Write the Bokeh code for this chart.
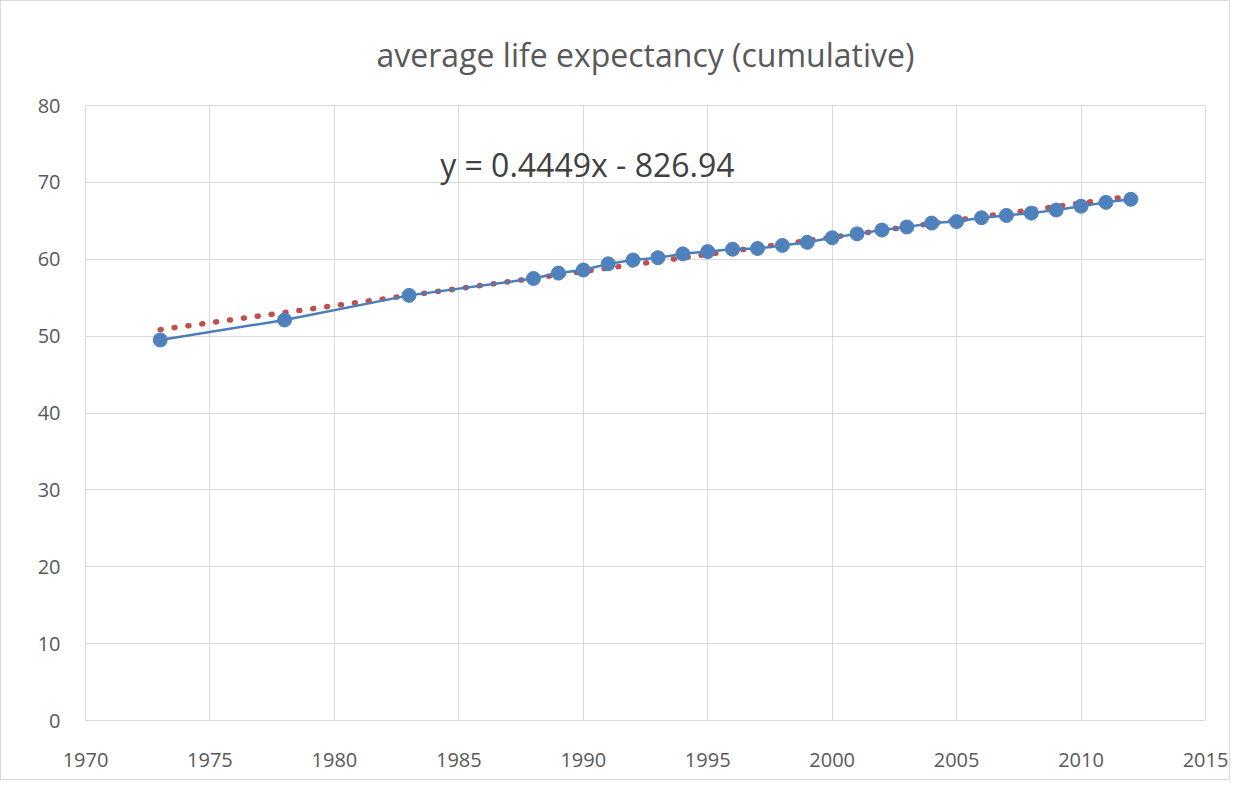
from bokeh.plotting import figure
from bokeh.models import Label, FixedTicker, Range1d
from bokeh.embed import file_html
from bokeh.resources import INLINE

years = [1973, 1978, 1983, 1988, 1989, 1990, 1991, 1992, 1993, 1994, 1995,
         1996, 1997, 1998, 1999, 2000, 2001, 2002, 2003, 2004, 2005, 2006,
         2007, 2008, 2009, 2010, 2011, 2012]
life_exp = [49.5, 52.1, 55.3, 57.5, 58.2, 58.6, 59.4, 59.9, 60.2, 60.7, 61.0,
            61.3, 61.4, 61.8, 62.2, 62.8, 63.3, 63.8, 64.2, 64.7, 64.9, 65.4,
            65.7, 66.0, 66.4, 66.9, 67.4, 67.8]
trend_slope = 0.4449
trend_intercept = -826.94
x_ticks = [1970, 1975, 1980, 1985, 1990, 1995, 2000, 2005, 2010, 2015]
y_ticks = [0, 10, 20, 30, 40, 50, 60, 70, 80]
title_text = "average life expectancy (cumulative)"
eq_text = "y = 0.4449x - 826.94"

trend_x = [years[0], years[-1]]
trend_y = [trend_slope * x + trend_intercept for x in trend_x]

FONT = "Open Sans"
TXT = "#595959"
GRID = "#d9d9d9"

p = figure(width=1230, height=780, output_backend="svg", toolbar_location=None,
           x_range=Range1d(1970, 2015), y_range=Range1d(0, 80),
           min_border_left=84, min_border_right=26, min_border_top=104,
           min_border_bottom=61, title=title_text)
p.styles = {"border": "1px solid #d9d9d9"}

p.title.align = "center"
p.title.text_font = FONT
p.title.text_font_size = "32px"
p.title.text_font_style = "normal"
p.title.text_color = TXT
p.title.standoff = 59
p.title.offset = -14

p.outline_line_color = GRID
p.xgrid.grid_line_color = GRID
p.ygrid.grid_line_color = GRID

p.xaxis.ticker = FixedTicker(ticks=x_ticks)
p.yaxis.ticker = FixedTicker(ticks=y_ticks)
for ax in (p.xaxis[0], p.yaxis[0]):
    ax.major_tick_line_color = None
    ax.minor_tick_line_color = None
    ax.major_label_text_font = FONT
    ax.major_label_text_font_size = "20px"
    ax.major_label_text_color = TXT
p.xaxis.axis_line_color = GRID
p.yaxis.axis_line_color = None
p.xaxis.major_label_standoff = 26
p.yaxis.major_label_standoff = 19

p.line(trend_x, trend_y, line_color="#c0504d", line_width=5.5,
       line_dash="1 13", line_cap="round")
p.line(years, life_exp, line_color="#4a7ebb", line_width=2.5)
p.scatter(years, life_exp, size=14, fill_color="#4f81bd",
          line_color="#4f81bd")

p.add_layout(Label(x=1984.25, y=72.3, text=eq_text, text_font=FONT,
                   text_font_size="32px", text_color="#404040",
                   text_baseline="middle"))

open("out.html", "w").write(file_html(p, INLINE))
